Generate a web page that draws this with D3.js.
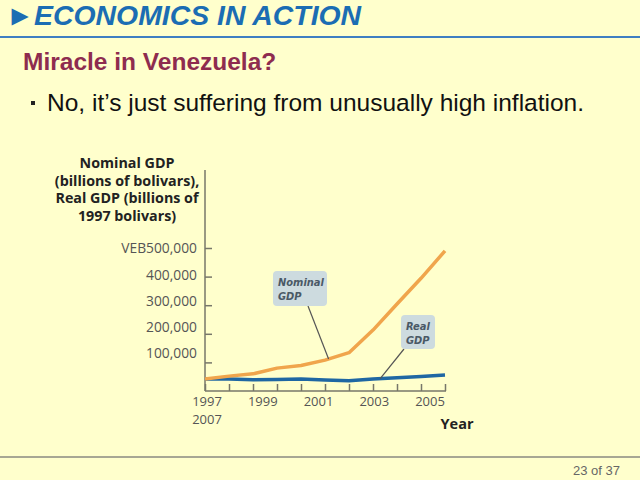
<!DOCTYPE html>
<html>
<head>
<meta charset="utf-8">
<script src="https://cdn.jsdelivr.net/npm/d3@7"></script>
<style>
  body { margin: 0; background: #ffffcc; }
  svg { display: block; }
</style>
</head>
<body>
<div id="chart"></div>
<script>
// data
var years = [1997, 1998, 1999, 2000, 2001, 2002, 2003, 2004, 2005, 2006, 2007];
var nominalGDP = [42000, 52000, 60000, 80000, 89000, 108000, 134000, 213000, 304000, 394000, 490000];
var realGDP = [42000, 41800, 39200, 40600, 42000, 38700, 35700, 42200, 46500, 51100, 55600];
var yTickValues = [100000, 200000, 300000, 400000, 500000];
var yTickLabels = ["100,000", "200,000", "300,000", "400,000", "VEB500,000"];
var xTickLabels = ["1997", "1999", "2001", "2003", "2005"];
var yTitle = ["Nominal GDP", "(billions of bolivars),", "Real GDP (billions of", "1997 bolivars)"];

var svgWidth = 640;
var svgHeight = 480;

var svg = d3.select("#chart")
  .append("svg")
  .attr("width", svgWidth)
  .attr("height", svgHeight);

svg.append("rect")
  .attr("width", svgWidth)
  .attr("height", svgHeight)
  .attr("fill", "#ffffcc");

// slide header
svg.append("text")
  .attr("x", 6)
  .attr("y", 25)
  .attr("fill", "#1b6db3")
  .attr("font-family", "Liberation Sans, Arial, sans-serif")
  .attr("font-size", "28.4px")
  .attr("font-weight", "bold")
  .attr("font-style", "italic")
  .text("►ECONOMICS IN ACTION");

svg.append("line")
  .attr("x1", 0).attr("x2", svgWidth)
  .attr("y1", 37).attr("y2", 37)
  .attr("stroke", "#3f7fc2")
  .attr("stroke-width", 2);

svg.append("text")
  .attr("x", 23)
  .attr("y", 70)
  .attr("fill", "#8e2c4f")
  .attr("font-family", "Liberation Sans, Arial, sans-serif")
  .attr("font-size", "24.5px")
  .attr("font-weight", "bold")
  .text("Miracle in Venezuela?");

svg.append("rect")
  .attr("x", 31).attr("y", 101)
  .attr("width", 4).attr("height", 4)
  .attr("fill", "#222");

svg.append("text")
  .attr("x", 47)
  .attr("y", 111)
  .attr("fill", "#111")
  .attr("font-family", "Liberation Sans, Arial, sans-serif")
  .attr("font-size", "24.5px")
  .text("No, it’s just suffering from unusually high inflation.");

// footer
svg.append("line")
  .attr("x1", 0).attr("x2", svgWidth)
  .attr("y1", 457).attr("y2", 457)
  .attr("stroke", "#8a8a80")
  .attr("stroke-width", 1.5);

svg.append("text")
  .attr("x", 620)
  .attr("y", 475)
  .attr("text-anchor", "end")
  .attr("fill", "#666")
  .attr("font-family", "Liberation Sans, Arial, sans-serif")
  .attr("font-size", "13px")
  .text("23 of 37");

// scales
var xScale = d3.scaleLinear()
  .domain([1997, 2007])
  .range([205, 445]);

var yScale = d3.scaleLinear()
  .domain([0, 500000])
  .range([391, 248]);

// the tick labels in the picture sit a little off the ticks
var yLabelScale = d3.scaleLinear()
  .domain([100000, 500000])
  .range([353.5, 248.5]);

var xLabelScale = d3.scalePoint()
  .domain(xTickLabels)
  .range([207, 430]);

var chartFont = "Open Sans, Noto Sans, sans-serif";
var axisColor = "#77776a";

// axes (ticks point inward)
var leftAxis = d3.axisLeft(yScale)
  .tickValues(yTickValues)
  .tickSize(-7)
  .tickFormat("");

var bottomAxis = d3.axisBottom(xScale)
  .tickValues(years)
  .tickSize(-7)
  .tickFormat("");

var yAxisG = svg.append("g")
  .attr("transform", "translate(205, 0)")
  .call(leftAxis);

var xAxisG = svg.append("g")
  .attr("transform", "translate(0, 391)")
  .call(bottomAxis);

[yAxisG, xAxisG].forEach(function(g) {
  g.select(".domain").remove();
  g.selectAll(".tick line").attr("stroke", axisColor).attr("stroke-width", 1.5);
});

svg.append("line")
  .attr("x1", 205).attr("x2", 205)
  .attr("y1", 170).attr("y2", 391)
  .attr("stroke", axisColor)
  .attr("stroke-width", 1.5);

svg.append("line")
  .attr("x1", 205).attr("x2", 446)
  .attr("y1", 391).attr("y2", 391)
  .attr("stroke", axisColor)
  .attr("stroke-width", 1.5);

// axis labels
svg.selectAll(".yLabel")
  .data(yTickValues)
  .enter()
  .append("text")
  .attr("class", "yLabel")
  .attr("x", 197)
  .attr("y", function(d) { return yLabelScale(d); })
  .attr("dy", "0.35em")
  .attr("text-anchor", "end")
  .attr("fill", "#555")
  .attr("font-family", chartFont)
  .attr("font-size", "13.8px")
  .text(function(d, i) { return yTickLabels[i]; });

svg.selectAll(".xLabel")
  .data(xTickLabels)
  .enter()
  .append("text")
  .attr("class", "xLabel")
  .attr("x", function(d) { return xLabelScale(d); })
  .attr("y", 406)
  .attr("text-anchor", "middle")
  .attr("fill", "#555")
  .attr("font-family", chartFont)
  .attr("font-size", "13px")
  .text(function(d) { return d; });

// "2007" wrapped under "1997" in the picture
svg.append("text")
  .attr("x", xLabelScale("1997"))
  .attr("y", 424)
  .attr("text-anchor", "middle")
  .attr("fill", "#555")
  .attr("font-family", chartFont)
  .attr("font-size", "13px")
  .text(years[years.length - 1]);

svg.append("text")
  .attr("x", 457)
  .attr("y", 429)
  .attr("text-anchor", "middle")
  .attr("fill", "#222")
  .attr("font-family", chartFont)
  .attr("font-size", "14.5px")
  .attr("font-weight", "bold")
  .text("Year");

svg.append("g")
  .selectAll("text")
  .data(yTitle)
  .enter()
  .append("text")
  .attr("x", 127)
  .attr("y", function(d, i) { return 168 + i * 17.5; })
  .attr("text-anchor", "middle")
  .attr("fill", "#222")
  .attr("font-family", chartFont)
  .attr("font-size", "14.3px")
  .attr("font-weight", "bold")
  .text(function(d) { return d; });

// lines
var gdpLine = d3.line()
  .x(function(d, i) { return xScale(years[i]); })
  .y(function(d) { return yScale(d); });

svg.append("path")
  .datum(realGDP)
  .attr("d", gdpLine)
  .attr("fill", "none")
  .attr("stroke", "#1f67a3")
  .attr("stroke-width", 3.5)
  .attr("stroke-linejoin", "round");

svg.append("path")
  .datum(nominalGDP)
  .attr("d", gdpLine)
  .attr("fill", "none")
  .attr("stroke", "#f0a54c")
  .attr("stroke-width", 3.5)
  .attr("stroke-linejoin", "round");

// callouts
var callouts = [
  { lines: ["Nominal", "GDP"], box: [273, 271, 54, 35], from: [308, 306], year: 2002.15, value: nominalGDP },
  { lines: ["Real", "GDP"], box: [401, 315, 34, 34], from: [404, 349], year: 2004.3, value: realGDP }
];

callouts.forEach(function(c) {
  // leader line ends on the series, between data points
  var i0 = Math.floor(c.year - years[0]);
  var t = c.year - years[0] - i0;
  var v = c.value[i0] + (c.value[i0 + 1] - c.value[i0]) * t;

  svg.append("line")
    .attr("x1", c.from[0]).attr("y1", c.from[1])
    .attr("x2", xScale(c.year)).attr("y2", yScale(v))
    .attr("stroke", "#555")
    .attr("stroke-width", 1.2);

  svg.append("rect")
    .attr("x", c.box[0]).attr("y", c.box[1])
    .attr("width", c.box[2]).attr("height", c.box[3])
    .attr("rx", 4)
    .attr("fill", "#cddbdf");

  c.lines.forEach(function(l, j) {
    svg.append("text")
      .attr("x", c.box[0] + 5)
      .attr("y", c.box[1] + 15 + j * 14)
      .attr("fill", "#4a5966")
      .attr("font-family", "DejaVu Sans Condensed, DejaVu Sans, sans-serif")
      .attr("font-size", "11px")
      .attr("font-weight", "bold")
      .attr("font-style", "italic")
      .text(l);
  });
});
</script>
</body>
</html>
